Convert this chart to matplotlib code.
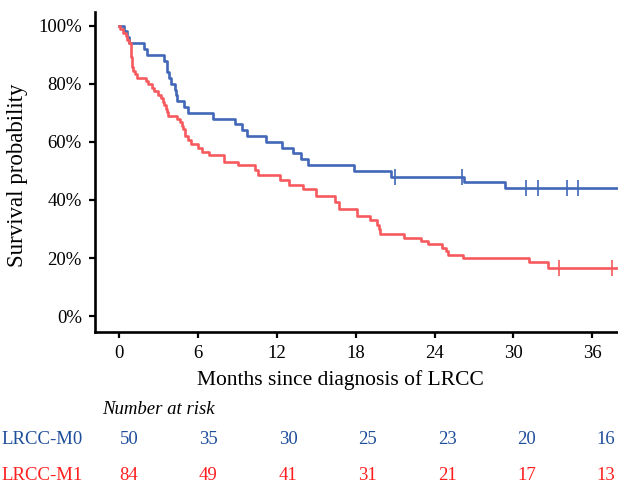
import numpy as np
import matplotlib
matplotlib.use('Agg')
import matplotlib.pyplot as plt
import matplotlib.transforms as mtransforms

plt.rcParams['font.family'] = ['Liberation Serif', 'DejaVu Serif']

# step curves: time (months) at which each survival level (%) begins
m0_time = [0, 0.37, 0.58, 0.75, 1.85, 2.1, 3.42, 3.63, 3.8, 3.95, 4.2, 4.3, 4.4,
           4.95, 5.22, 7.15, 8.8, 9.3, 9.7, 11.17, 12.36, 13.25, 13.8, 14.34,
           17.9, 20.66, 26.25, 29.4]
m0_surv = [100, 98, 96, 94, 92, 90, 88, 84, 82, 80, 78, 76, 74,
           72, 70, 68, 66, 64, 62, 60, 58, 56, 54, 52,
           50, 48, 46, 44]
m0_censor = [21.0, 26.1, 31.0, 31.9, 34.07, 34.95]

m1_time = [0, 0.05, 0.3, 0.48, 0.6, 0.73, 0.85, 0.88, 0.93, 0.98, 1.06, 1.19, 1.32,
           2.0, 2.2, 2.46, 2.66, 2.9, 3.2, 3.3, 3.42, 3.52, 3.6, 3.7,
           4.36, 4.6, 4.74, 4.87, 5.0, 5.25, 5.45, 5.95, 6.27, 6.85, 7.95,
           9.06, 10.3, 10.55, 12.2, 12.9, 13.96, 15.0, 16.45, 16.7,
           18.07, 19.1, 19.65, 19.75, 19.85, 21.7, 22.95, 23.5, 24.6, 24.85,
           25.05, 26.2, 31.2, 32.67]
m1_surv = [100, 98.8, 97.6, 96.4, 95.2, 94.0, 92.9, 89.3, 87.0, 85.7, 84.5, 83.3, 82.1,
           81.0, 79.8, 78.6, 77.4, 76.2, 75.0, 73.8, 72.6, 71.4, 70.2, 69.0,
           67.9, 66.7, 65.5, 64.3, 62.0, 60.7, 59.3, 58.0, 56.6, 55.6, 53.2,
           52.0, 50.3, 48.6, 46.8, 45.1, 43.6, 41.4, 39.4, 37.0,
           34.4, 33.0, 31.5, 30.0, 28.1, 27.0, 25.8, 24.7, 23.5, 22.3,
           21.0, 19.9, 18.7, 16.6]
m1_censor = [33.5, 37.5]

risk_times = [0, 6, 12, 18, 24, 30, 36]
risk_m0 = [50, 35, 30, 25, 23, 20, 16]
risk_m1 = [84, 49, 41, 31, 21, 17, 13]

end_time = 39

blue, red = '#4267B8', '#F65A5E'
blue_txt, red_txt = '#1F4E9B', '#FF1F1F'


def level_at(times, surv, t):
    idx = np.searchsorted(times, t, side='right') - 1
    return surv[idx]


fig = plt.figure(figsize=(6.18, 4.83), dpi=100)
ax = fig.add_axes([95 / 618, 1 - 331.5 / 483, 1 - 95 / 618, (331.5 - 12) / 483])

for times, surv, cens, col in [(m0_time, m0_surv, m0_censor, blue),
                               (m1_time, m1_surv, m1_censor, red)]:
    ax.step(times + [end_time], surv + [surv[-1]], where='post', color=col,
            linewidth=1.9, clip_on=True)
    ax.plot(cens, [level_at(times, surv, c) for c in cens], linestyle='none',
            marker='|', markersize=11, markeredgewidth=1.2, color=col)

ax.set_xlim(-1.86, 37.97)
ax.set_ylim(-5.3, 104.7)
ax.set_xticks(risk_times)
ax.set_yticks([0, 20, 40, 60, 80, 100])
ax.set_yticklabels([f'{v}%' for v in [0, 20, 40, 60, 80, 100]])
for s in ['top', 'right']:
    ax.spines[s].set_visible(False)
for s in ['left', 'bottom']:
    ax.spines[s].set_linewidth(1.9)
ax.tick_params(axis='both', direction='out', length=4.5, width=1.6,
               labelsize=13.5)
ax.tick_params(axis='x', pad=5)
ax.tick_params(axis='y', pad=5)

fig.text(18 / 618, 1 - 175.5 / 483, 'Survival probability', rotation=90,
         ha='center', va='center', fontsize=16.5)
fig.text(340.5 / 618, 1 - 380 / 483, 'Months since diagnosis of LRCC',
         ha='center', va='center', fontsize=15.5)
fig.text(102 / 618, 1 - 410 / 483, 'Number at risk', ha='left', va='center',
         fontsize=13.5, style='italic')

trans = mtransforms.blended_transform_factory(ax.transData, fig.transFigure)
for label, counts, col, ypx in [('LRCC-M0', risk_m0, blue_txt, 440),
                                ('LRCC-M1', risk_m1, red_txt, 475)]:
    fig.text(1 / 618, 1 - ypx / 483, label, ha='left', va='center',
             fontsize=13.5, color=col)
    for t, n in zip(risk_times, counts):
        ax.text(t + t * 0.01, 1 - ypx / 483, str(n), transform=trans,
                ha='left', va='center', fontsize=13.5, color=col, clip_on=False)

fig.savefig('out.png', dpi=100)
